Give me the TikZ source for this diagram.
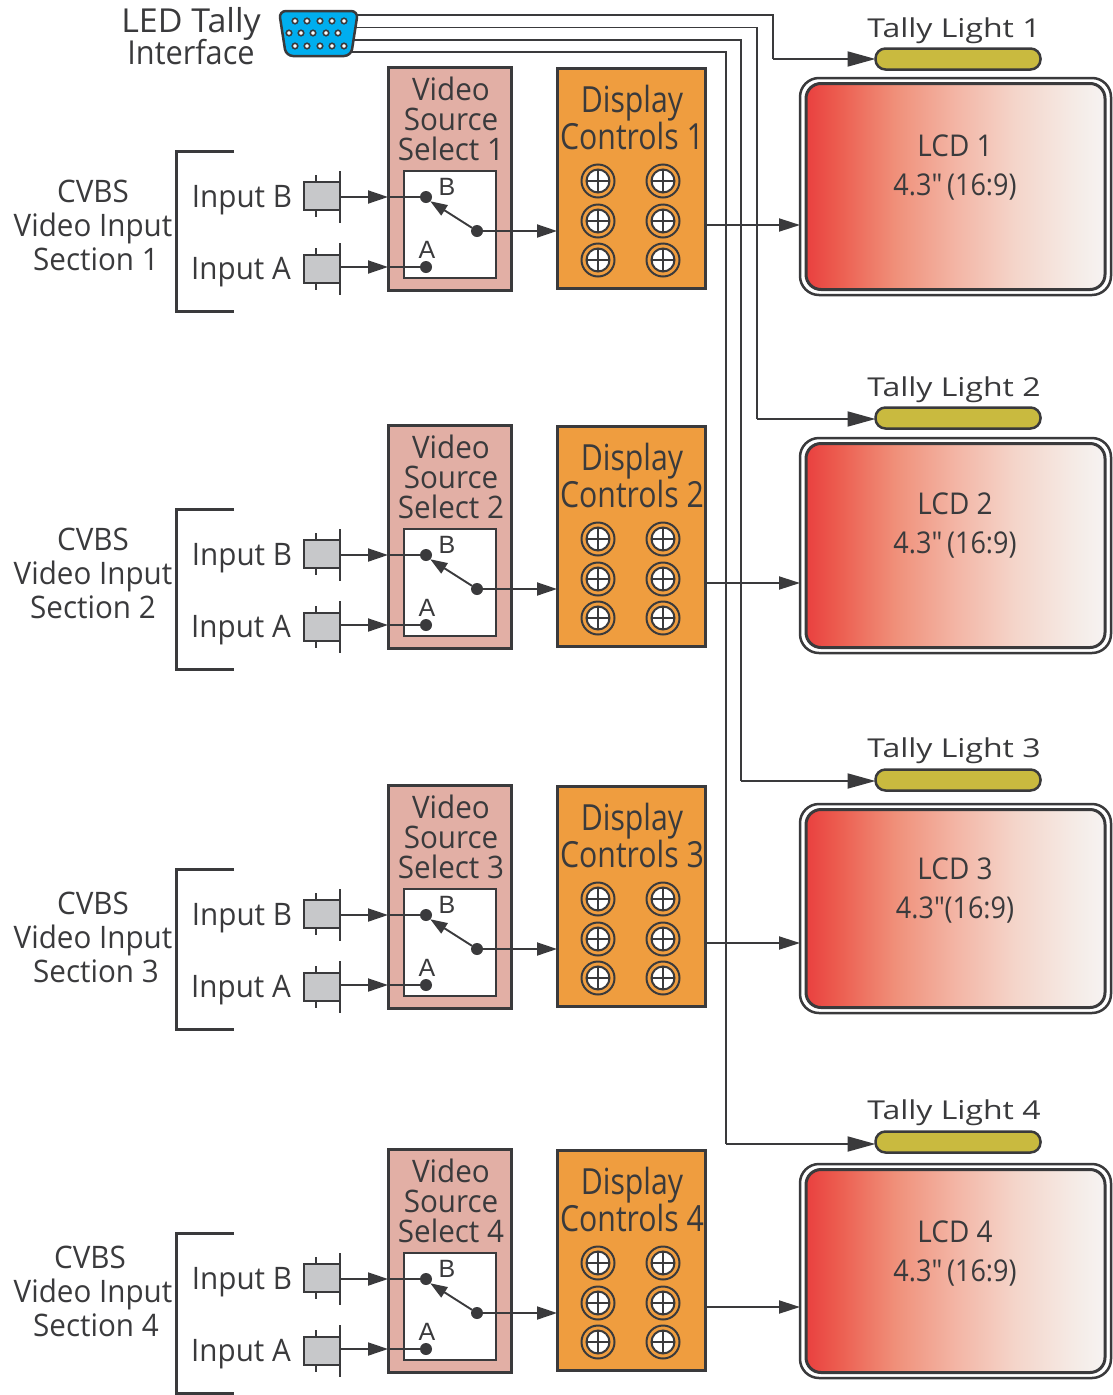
\documentclass[tikz,border=0pt]{standalone}
\usepackage{fontspec}
\setmainfont{Open Sans}[FakeStretch=0.955]
\newfontfamily\narrowfont{Open Sans}[FakeStretch=0.84]
\newfontfamily\lcdfont{Open Sans}[FakeStretch=0.93]
\newfontfamily\secondfont{Open Sans}[FakeStretch=0.9]
\newfontfamily\widefont{Open Sans}[FakeStretch=1.23]
\newfontfamily\ledfont{Open Sans}[FakeStretch=1.03]
\newfontfamily\ifacefont{Open Sans}[FakeStretch=0.93]
\newfontfamily\helvfont{Liberation Sans}
\usetikzlibrary{arrows.meta}
\definecolor{ink}{HTML}{3A3A3C}
\definecolor{pinkbox}{HTML}{E2AFA5}
\definecolor{orangebox}{HTML}{EF9D3F}
\definecolor{pill}{HTML}{C9BA3F}
\definecolor{plug}{HTML}{C7C8CA}
\definecolor{vga}{HTML}{00AEEF}
\pgfdeclarehorizontalshading{lcdshade}{100bp}{rgb(0bp)=(0.914,0.251,0.247); rgb(25bp)=(0.914,0.251,0.247); rgb(30bp)=(0.925,0.357,0.306); rgb(40bp)=(0.941,0.565,0.478); rgb(50bp)=(0.953,0.71,0.647); rgb(60bp)=(0.957,0.835,0.792); rgb(70bp)=(0.961,0.922,0.902); rgb(75bp)=(0.965,0.953,0.949); rgb(100bp)=(0.965,0.953,0.949)}
\tikzset{
  x=1pt,y=-1pt,
  every node/.style={inner sep=0pt,outer sep=0pt,text=ink},
  wire/.style={draw=ink,line width=1.9pt},
  inarrow/.style={wire,-{Triangle[length=20pt,width=13pt]}},
  bigarrow/.style={wire,-{Triangle[length=28pt,width=15pt]}},
  lab/.style={anchor=base,align=center},
  boxtext/.style={lab,font=\fontsize{31}{31}\selectfont},
  dispt/.style={lab,font=\narrowfont\fontsize{36}{36}\selectfont},
  tallyt/.style={lab,font=\widefont\fontsize{26}{26}\selectfont},
  lcdt/.style={lab,font=\lcdfont\fontsize{30}{30}\selectfont},
  lcdu/.style={lab,font=\secondfont\fontsize{30}{30}\selectfont},
  letter/.style={lab,font=\helvfont\fontsize{25}{25}\selectfont},
  srcbox/.style={draw=ink,fill=pinkbox,line width=3pt,minimum width=123pt,minimum height=223pt},
  swbox/.style={draw=ink,fill=white,line width=2pt,minimum width=92pt,minimum height=107pt},
  ctlbox/.style={draw=ink,fill=orangebox,line width=3pt,minimum width=148pt,minimum height=220pt},
  plugbox/.style={draw=ink,fill=plug,line width=2pt,minimum width=36pt,minimum height=28pt},
  dotn/.style={circle,fill=ink,minimum size=12pt},
  pillbox/.style={draw=ink,fill=pill,line width=2.5pt,rounded corners=10pt,minimum width=165pt,minimum height=21pt},
  pin/.style={circle,draw=ink,fill=white,line width=1.6pt,minimum size=5.5pt},
  flange/.style={draw=ink,line width=2pt},
  bracket/.style={draw=ink,line width=3pt},
}
\newcommand{\cvdy}{0}
\newcommand{\lcddy}{0}
\newcommand{\lcdsecond}{}
\newcommand{\setsec}[3]{\renewcommand{\cvdy}{#1}\renewcommand{\lcddy}{#2}\renewcommand{\lcdsecond}{#3}}
% #1 index, #2 dy, #3/#4/#5 x of the CVBS lines, #6 outer LCD top, #7 outer LCD height, #8 tally y, #9 tally text baseline
\newcommand{\videosection}[9]{%
  \begin{scope}[yshift=-#2pt]
  % bracket
  \coordinate (bt#1) at (234,151); \coordinate (bb#1) at (234,311);
  \draw[bracket] (bt#1) -- (176,151) -- (176,311) -- (bb#1);
  \node[boxtext] (cv#1a) at (#3,202+\cvdy) {CVBS};
  \node[boxtext] (cv#1b) at (#4,236+\cvdy) {Video Input};
  \node[boxtext] (cv#1c) at (#5,270+\cvdy) {Section #1};
  \node[boxtext] (lb#1) at (242,207) {Input B};
  \node[boxtext] (la#1) at (241,279) {Input A};
  % source box
  \node[srcbox] (vs#1) at (449.5,178.5) {};
  \node[boxtext] (vt#1a) at (451,100) {Video};
  \node[boxtext] (vt#1b) at (451,130) {Source};
  \node[boxtext] (vt#1c) at (451,160.5) {Select #1};
  \node[swbox] (sw#1) at (450,224.5) {};
  % control box
  \node[ctlbox] (dc#1) at (631,178) {};
  \node[dispt] (dt#1a) at (632,112) {Display};
  \node[dispt] (dt#1b) at (632,149) {Controls #1};
  \foreach \kx/\kn in {598/l,663/r}{\foreach \ky/\km in {181/a,221/b,260/c}{
    \node[circle,draw=ink,line width=2pt,minimum size=33pt] (k#1\kn\km) at (\kx,\ky) {};
    \draw[ink,line width=2pt,fill=white] (\kx,\ky) circle[radius=11.5];
    \draw[ink,line width=2pt] (\kx-11.5,\ky) -- (\kx+11.5,\ky) (\kx,\ky-11.5) -- (\kx,\ky+11.5);
  }}
  % plugs
  \node[plugbox] (pb#1) at (322,196) {};
  \node[plugbox] (pa#1) at (322,269) {};
  \draw[flange] (340,171) -- (340,223) (316,175) -- (316,182) (316,210) -- (316,217);
  \draw[flange] (340,243) -- (340,295) (316,248) -- (316,255) (316,283) -- (316,290);
  % switch
  \node[dotn] (db#1) at (426,197) {};
  \node[dotn] (da#1) at (426,267) {};
  \node[dotn] (ds#1) at (477,231) {};
  \node[letter] (lB#1) at (447,195) {B};
  \node[letter] (lA#1) at (427,258) {A};
  \coordinate (ib#1) at (vs#1.west |- db#1);
  \coordinate (ia#1) at (vs#1.west |- da#1);
  \draw[inarrow] (340,197) -- (ib#1);
  \draw[inarrow] (340,267) -- (ia#1);
  \draw[wire] (ib#1) -- (db#1);
  \draw[wire] (ia#1) -- (da#1);
  \draw[wire,-{Triangle[length=17pt,width=12pt]}] (ds#1) -- (db#1.south east);
  \draw[inarrow] (ds#1) -- (ds#1 -| dc#1.west);
  % LCD
  \node[draw=ink,fill=white,line width=2.5pt,rounded corners=19pt,minimum width=311pt,minimum height=#7pt,anchor=north west] (lo#1) at (800,#6) {};
  \path[draw=ink,line width=3pt,rounded corners=15pt,shade,shading=lcdshade] (806,#6+5.5) rectangle (1105,#6+#7-5.5);
  \node[lcdt] (lc#1a) at (955,156+\lcddy) {LCD #1};
  \node[lcdu] (lc#1b) at (955,195+\lcddy) {\lcdsecond};
  \draw[wire,-{Triangle[length=21pt,width=13pt]}] (dc#1.east |- 0,225) -- (lo#1.west |- 0,225);
  % tally
  \node[pillbox] (tl#1) at (958,#8) {};
  \node[tallyt] (tt#1) at (954,#9) {Tally Light #1};
  \end{scope}
}
\begin{document}
\begin{tikzpicture}
\useasboundingbox (0,0) rectangle (1112,1395);
\setsec{0}{0}{4.3\char"2033\,(16:9)}
\videosection{1}{0}{93}{93}{96}{78}{217}{59}{37}
\setsec{-9.5}{0}{4.3\char"2033\,(16:9)}
\videosection{2}{358}{93}{93}{93}{80}{215}{60}{38}
\setsec{-6}{5.5}{4.3\char"2033(16:9)}
\videosection{3}{718}{93}{93}{96}{86}{209}{62}{39}
\setsec{-16}{4.5}{4.3\char"2033\,(16:9)}
\videosection{4}{1082}{90}{93}{96}{82}{214}{60}{37}
% interface
\node[lab,font=\ledfont\fontsize{33}{33}\selectfont] (ledA) at (191,32) {LED Tally};
\node[lab,font=\ifacefont\fontsize{33}{33}\selectfont] (ledB) at (191,64) {Interface};
\coordinate (w1) at (350,15); \coordinate (w2) at (350,27.5); \coordinate (w3) at (350,40); \coordinate (w4) at (350,52);
\draw[wire] (w1) -- (773,15) -- (773,59);
\draw[bigarrow] (773,59) -- (tl1.west);
\draw[wire] (w2) -- (757,27.5) -- (757,419);
\draw[bigarrow] (757,419) -- (tl2.west |- 0,419);
\draw[wire] (w3) -- (741,40) -- (741,781);
\draw[bigarrow] (741,781) -- (tl3.west |- 0,781);
\draw[wire] (w4) -- (726,52) -- (726,1144);
\draw[bigarrow] (726,1144) -- (tl4.west |- 0,1144);
\draw[draw=ink,fill=vga,line width=2.5pt,rounded corners=7pt] (279,11) -- (358,11) -- (351,56) -- (286,56) -- cycle;
\foreach \px [count=\i] in {295,307,320,332,344}{
  \node[pin] (pt\i) at (\px,21) {};
  \node[pin] (pc\i) at (\px,46) {};
}
\foreach \px [count=\i] in {289,301,313,326,338}{
  \node[pin] (pm\i) at (\px,33) {};
}
\end{tikzpicture}
\end{document}
